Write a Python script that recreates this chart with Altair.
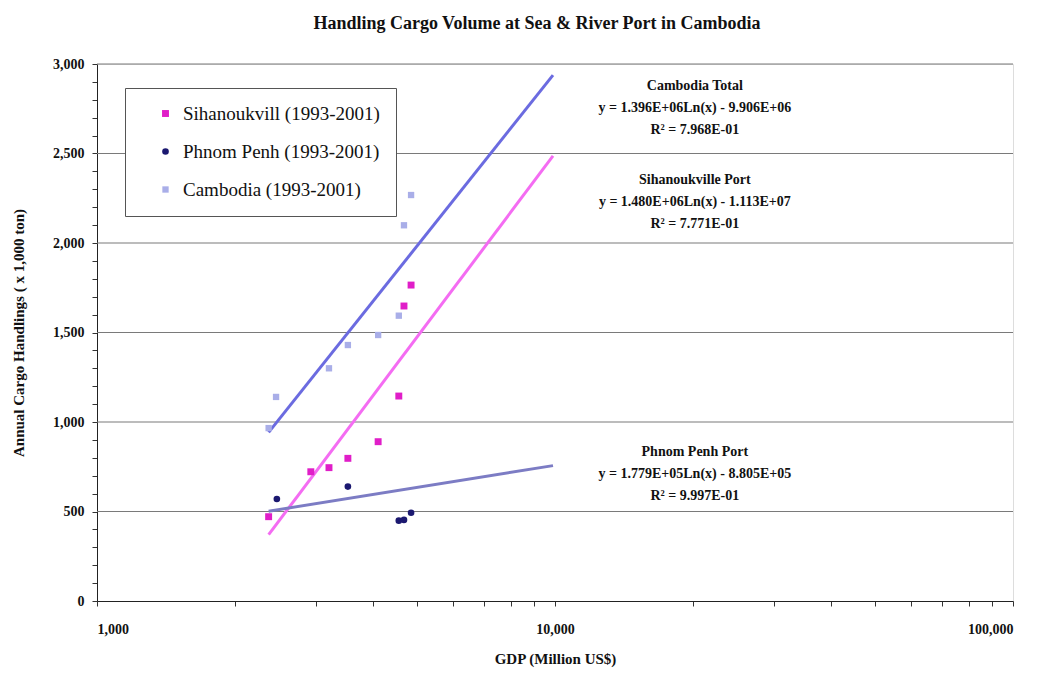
import math
import altair as alt
import pandas as pd

# Observed port cargo (x 1,000 ton) against national GDP (million US$)
series_names = ["Sihanoukvill (1993-2001)", "Phnom Penh (1993-2001)", "Cambodia (1993-2001)"]
series_colors = ["#e01ec8", "#1b1870", "#a9aee8"]
series_shapes = ["square", "circle", "square"]
series_sizes = [48, 40, 18]

sihanoukville_gdp = [2370, 2930, 3210, 3530, 4110, 4560, 4680, 4850]
sihanoukville_cargo = [471, 722, 745, 797, 890, 1145, 1648, 1765]
phnom_penh_gdp = [2470, 3530, 4560, 4680, 4850]
phnom_penh_cargo = [570, 639, 449, 453, 493]
cambodia_gdp = [2370, 2460, 3210, 3530, 4110, 4560, 4680, 4850]
cambodia_cargo = [966, 1140, 1300, 1430, 1486, 1594, 2099, 2268]

# Logarithmic trend lines: cargo_ton = slope * ln(GDP) + intercept
trend_names = ["Cambodia Total", "Sihanoukville Port", "Phnom Penh Port"]
trend_slope = [1.396e6, 1.480e6, 1.779e5]
trend_intercept = [-9.906e6, -1.113e7, -8.805e5]
trend_r2 = ["7.968E-01", "7.771E-01", "9.997E-01"]
trend_colors = ["#6b6be0", "#f46cf2", "#7c7cc4"]
trend_widths = [3, 3, 2]
trend_gdp_range = [2370, 9900]

# Where each trend's caption block sits (GDP, cargo of the first line)
caption_gdp = 20200
caption_top = [2877, 2352, 832]
caption_step = 123

y_grid = [500, 1000, 1500, 2000, 2500, 3000]
x_ticks = [1000 * m * 10 ** k for k in range(2) for m in range(1, 10)] + [100000]
x_labels = [1000, 10000, 100000]

SERIF = "Liberation Serif"

points = pd.DataFrame(
    [{"series": series_names[0], "gdp": g, "cargo": c} for g, c in zip(sihanoukville_gdp, sihanoukville_cargo)]
    + [{"series": series_names[1], "gdp": g, "cargo": c} for g, c in zip(phnom_penh_gdp, phnom_penh_cargo)]
    + [{"series": series_names[2], "gdp": g, "cargo": c} for g, c in zip(cambodia_gdp, cambodia_cargo)]
)

trend_rows = []
caption_rows = []
for name, a, b, r2, top in zip(trend_names, trend_slope, trend_intercept, trend_r2, caption_top):
    for g in trend_gdp_range:
        trend_rows.append({"trend": name, "gdp": g, "slope": a, "intercept": b})
    sign = "-" if b < 0 else "+"
    lines = [name, f"y = {a:.3E}Ln(x) {sign} {abs(b):.3E}", f"R\u00b2 = {r2}"]
    for i, txt in enumerate(lines):
        caption_rows.append({"gdp": caption_gdp, "cargo": top - i * caption_step, "label": txt})
trends = pd.DataFrame(trend_rows)
captions = pd.DataFrame(caption_rows)
grid = pd.DataFrame({"cargo": y_grid})

label_list = ",".join(str(v) for v in x_labels)
x_enc = alt.X(
    "gdp:Q",
    scale=alt.Scale(type="log", domain=[1000, 100000], nice=False),
    axis=alt.Axis(
        values=x_ticks,
        labelExpr=f"indexof([{label_list}], datum.value) >= 0 ? format(datum.value, ',') : ''",
        grid=False,
        tickSize=5,
        tickColor="#333333",
        domainColor="#222222",
        labelFont=SERIF,
        labelFontSize=14,
        labelFontWeight="bold",
        labelPadding=16,
        labelColor="#111111",
        title="GDP (Million US$)",
        titleFont=SERIF,
        titleFontSize=15,
        titleFontWeight="bold",
        titlePadding=15,
        titleColor="#111111",
    ),
)
y_enc = alt.Y(
    "cargo:Q",
    scale=alt.Scale(domain=[0, 3000], nice=False),
    axis=alt.Axis(
        values=list(range(0, 3001, 100)),
        labelExpr="datum.value % 500 === 0 ? format(datum.value, ',') : ''",
        grid=False,
        tickSize=5,
        tickColor="#333333",
        domainColor="#222222",
        labelFont=SERIF,
        labelFontSize=14,
        labelFontWeight="bold",
        labelPadding=8,
        labelColor="#111111",
        title="Annual Cargo Handlings ( x 1,000 ton)",
        titleFont=SERIF,
        titleFontSize=15,
        titleFontWeight="bold",
        titlePadding=26,
        titleColor="#111111",
    ),
)

grid_layer = alt.Chart(grid).mark_rule(color="#7a7a7a", strokeWidth=1.2).encode(y=y_enc)

trend_layer = (
    alt.Chart(trends)
    .transform_calculate(cargo="(datum.slope * log(datum.gdp) + datum.intercept) / 1000")
    .mark_line()
    .encode(
        x=x_enc,
        y=y_enc,
        detail="trend:N",
        stroke=alt.Stroke("trend:N", scale=alt.Scale(domain=trend_names, range=trend_colors), legend=None),
        strokeWidth=alt.StrokeWidth("trend:N", scale=alt.Scale(domain=trend_names, range=trend_widths), legend=None),
    )
)

series_legend = alt.Legend(
    title=None,
    orient="none",
    legendX=28,
    legendY=24,
    fillColor="white",
    strokeColor="#555555",
    padding=16,
    symbolOffset=15,
    labelOffset=8,
    rowPadding=18,
    labelFont=SERIF,
    labelFontSize=19,
    labelColor="#111111",
    labelLimit=400,
)

point_layer = (
    alt.Chart(points)
    .mark_point(filled=True, opacity=1)
    .encode(
        x=x_enc,
        y=y_enc,
        color=alt.Color("series:N", scale=alt.Scale(domain=series_names, range=series_colors), legend=series_legend),
        shape=alt.Shape("series:N", scale=alt.Scale(domain=series_names, range=series_shapes), legend=series_legend),
        size=alt.Size("series:N", scale=alt.Scale(domain=series_names, range=series_sizes), legend=series_legend),
    )
)

caption_layer = (
    alt.Chart(captions)
    .mark_text(font=SERIF, fontSize=14, fontWeight="bold", color="#111111", align="center", baseline="middle")
    .encode(x=x_enc, y=y_enc, text="label:N")
)

chart = (
    alt.layer(grid_layer, trend_layer, point_layer, caption_layer)
    .properties(
        width=916,
        height=537,
        autosize=alt.AutoSizeParams(type="none"),
        padding={"left": 97, "top": 64, "right": 29, "bottom": 72},
        title=alt.TitleParams(
            "Handling Cargo Volume at Sea & River Port in Cambodia",
            font=SERIF,
            fontSize=18,
            fontWeight="bold",
            color="#111111",
            anchor="middle",
            frame="group",
            baseline="middle",
            offset=15,
            dx=-18,
        ),
    )
    .configure_view(stroke="#c4c4c4", strokeWidth=1.2)
    .configure_legend(labelFont=SERIF, labelFontSize=19, labelColor="#111111")
    .configure(background="white", font=SERIF)
)

chart.save("out.html", embed_options={"renderer": "svg", "actions": False})
